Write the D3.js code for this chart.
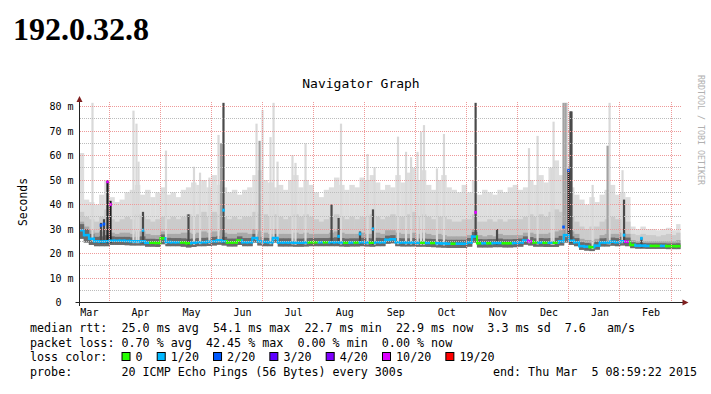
<!DOCTYPE html>
<html>
<head>
<meta charset="utf-8">
<script src="https://cdn.jsdelivr.net/npm/d3@7"></script>
<style>
  body { margin: 0; background: #fff; }
  text { font-family: "DejaVu Sans Mono", monospace; white-space: pre; }
</style>
</head>
<body>
<svg id="chart" width="711" height="394"></svg>
<script>
// month labels, Mar 2014 .. Feb 2015 (month index 0 = Mar 2014)
const months = ["Mar", "Apr", "May", "Jun", "Jul", "Aug", "Sep", "Oct", "Nov", "Dec", "Jan", "Feb"];
const yTicks = [0, 10, 20, 30, 40, 50, 60, 70, 80];
const yMinor = [5, 15, 25, 35, 45, 55, 65, 75];

// one column every 0.1 month, starting mid March 2014 (values in ms)
const colFirst = 0.4, colStep = 0.1;

const median = [
  29.5, 27.5, 26.0, 25.0, 24.9, 25.0,
  25.2, 25.2, 25.2, 25.1, 25.0, 25.0, 25.0, 24.4, 24.4, 24.3,
  26.2, 24.7, 24.6, 24.6, 24.5, 24.2, 24.4, 24.6, 24.6, 24.8,
  25.0, 25.4, 25.0, 24.5, 24.5, 25.3, 24.6, 24.6, 26.3, 25.0,
  24.7, 24.6, 26.3, 24.5, 24.5, 24.5, 24.4, 24.4, 24.5, 24.6,
  24.6, 24.6, 24.6, 24.6, 24.6, 24.5, 24.4, 24.5, 24.5, 24.6,
  24.5, 24.4, 24.6, 24.6, 25.6, 25.8, 24.6, 24.5, 24.5, 24.5,
  24.4, 24.4, 24.3, 24.3, 24.2, 24.1, 24.0, 24.0, 24.0, 24.0,
  24.5, 26.9, 24.2, 24.2, 24.2, 24.3, 24.3, 24.2, 24.2, 24.3,
  24.5, 25.3, 25.0, 24.5, 24.5, 24.4, 24.4, 24.4, 25.0, 27.5,
  25.2, 24.6, 23.0, 22.8, 22.6, 23.2, 24.5, 24.5, 24.8, 24.6,
  25.0, 24.8, 23.5, 23.2, 23.2, 23.1, 23.1, 23.1, 23.1, 23.0,
  23.0, 23.0
];

// loss index per column: 0 = none, 1 = 1/20, 5 = 10/20
const loss = [
  1, 1, 1, 1, 1, 1,
  1, 1, 1, 1, 1, 1, 1, 1, 0, 0,
  0, 1, 1, 1, 0, 0, 1, 1, 1, 1,
  1, 1, 1, 0, 0, 0, 1, 1, 1, 1,
  1, 1, 1, 1, 1, 1, 1, 1, 1, 0,
  0, 1, 0, 1, 1, 1, 0, 1, 0, 1,
  1, 0, 1, 1, 1, 1, 1, 1, 1, 1,
  1, 0, 1, 0, 1, 1, 1, 0, 1, 1,
  1, 1, 0, 1, 0, 1, 1, 0, 0, 1,
  1, 1, 5, 0, 1, 0, 1, 0, 1, 1,
  1, 1, 1, 1, 0, 1, 1, 1, 1, 1,
  1, 5, 0, 1, 1, 1, 0, 0, 1, 0,
  0, 0
];

const pingMin = [
  26.0, 24.5, 23.5, 23.0, 23.0, 23.0,
  23.5, 23.5, 23.5, 23.4, 23.3, 23.3, 23.3, 22.8, 22.8, 22.7,
  23.8, 23.0, 23.0, 23.0, 22.8, 22.5, 22.7, 23.0, 23.0, 23.1,
  23.3, 23.6, 23.3, 22.9, 22.9, 23.5, 23.0, 23.0, 24.5, 23.3,
  23.0, 23.0, 24.5, 22.9, 22.9, 22.9, 22.8, 22.8, 22.9, 23.0,
  23.0, 23.0, 23.0, 23.0, 23.0, 22.9, 22.8, 22.9, 22.9, 23.0,
  22.9, 22.8, 23.0, 23.0, 24.0, 24.2, 23.0, 22.9, 22.9, 22.9,
  22.8, 22.8, 22.7, 22.6, 22.5, 22.4, 22.3, 22.3, 22.3, 22.3,
  22.8, 24.5, 22.5, 22.5, 22.5, 22.6, 22.6, 22.5, 22.5, 22.6,
  22.8, 23.6, 23.3, 22.8, 22.8, 22.7, 22.7, 22.7, 23.3, 24.5,
  23.5, 23.0, 21.5, 21.2, 21.0, 21.6, 22.9, 22.9, 23.2, 23.0,
  23.3, 23.0, 22.2, 22.0, 22.0, 21.9, 21.9, 21.9, 21.9, 21.8,
  21.8, 21.8
];

const pingInner = [
  32.0, 30.0, 28.0, 26.8, 27.0, 27.5,
  27.0, 26.8, 26.8, 26.8, 26.6, 26.8, 27.0, 26.0, 26.0, 25.9,
  27.8, 26.4, 26.3, 26.3, 26.2, 26.0, 26.1, 26.3, 26.4, 26.5,
  26.8, 27.2, 26.8, 26.1, 26.1, 27.0, 26.3, 26.3, 28.0, 26.8,
  26.4, 26.3, 28.0, 26.2, 26.2, 26.2, 26.1, 26.1, 26.2, 26.3,
  26.3, 26.3, 26.3, 26.4, 26.6, 26.3, 26.1, 26.2, 26.2, 26.4,
  26.3, 26.2, 26.4, 26.3, 27.3, 27.5, 26.3, 26.2, 26.2, 26.3,
  26.1, 26.1, 26.0, 25.9, 25.8, 25.7, 25.6, 25.6, 25.6, 25.6,
  26.3, 28.8, 25.9, 25.8, 25.9, 25.9, 26.1, 25.8, 25.8, 25.9,
  26.1, 27.0, 26.7, 26.2, 26.3, 26.2, 26.3, 26.4, 27.2, 30.0,
  27.0, 26.3, 24.6, 24.3, 24.1, 24.8, 26.2, 26.3, 26.5, 26.3,
  26.8, 26.5, 24.6, 24.3, 24.3, 24.2, 24.2, 24.2, 24.2, 24.1,
  24.1, 24.2
];

const pingMid = [
  33, 31, 29.5, 28.5, 29, 30,
  28.5, 28, 28.5, 28.5, 28, 29, 29, 28, 27.5, 27.5,
  29, 28, 28, 28, 28.5, 28.5, 28, 28.5, 29, 28.5,
  29, 29, 28.5, 28, 28, 28.5, 28.5, 28, 30, 29,
  28.5, 28, 30, 28, 28, 28, 28.5, 28, 28.5, 28,
  28, 28, 28, 28.5, 29, 28.5, 28, 28, 28, 28.5,
  28, 28, 28.5, 28, 29.5, 29.5, 28.5, 28, 28, 28.5,
  28, 28.5, 28, 27.5, 28, 27.5, 27, 27, 27, 27,
  27.5, 30, 27.5, 27, 27.5, 27, 28, 27.5, 27.5, 27.5,
  27.5, 28.5, 28.5, 28, 28, 28, 28.5, 29, 29.5, 32,
  29, 28, 26, 25.5, 25.5, 26, 27.5, 28, 28, 28,
  28.5, 28, 25.5, 25, 25, 25, 25, 25, 25, 25,
  25, 25.5
];

const pingUpper = [
  37, 35, 34, 33, 35, 38,
  34, 33, 34, 35, 34, 36, 35, 34, 33, 34,
  35, 34, 35, 34, 35, 36, 35, 36, 37, 35,
  37, 36, 35, 34, 35, 34, 35, 35, 37, 36,
  36, 35, 36, 35, 34, 35, 36, 35, 36, 35,
  34, 33, 34, 35, 36, 35, 34, 35, 34, 35,
  35, 36, 35, 34, 35, 36, 35, 35, 36, 37,
  35, 36, 35, 34, 35, 35, 34, 33, 33, 34,
  34, 36, 33, 33, 34, 33, 34, 33, 34, 34,
  34, 35, 36, 35, 36, 35, 37, 38, 37, 40,
  35, 33, 31, 30, 31, 31, 33, 34, 35, 34,
  34, 33, 28, 27.5, 28, 27.5, 27.5, 27, 27.5, 28,
  27.5, 28.5
];

const pingMax = [
  61, 42, 41, 40, 44, 50,
  43, 41, 42, 45, 46, 48, 44, 46, 43, 45,
  47, 44, 45, 43, 46, 47, 49, 48, 50, 47,
  52, 48, 47, 45, 46, 44, 46, 47, 52, 54,
  50, 49, 47, 48, 46, 50, 52, 47, 50, 48,
  45, 43, 46, 47, 51, 48, 46, 48, 47, 51,
  50, 52, 49, 46, 48, 47, 52, 49, 53, 55,
  50, 54, 48, 46, 50, 52, 47, 46, 45, 48,
  45, 50, 44, 46, 45, 44, 46, 45, 47, 48,
  46, 47, 50, 48, 52, 49, 55, 58, 52, 56,
  47, 44, 42, 40, 43, 41, 44, 46, 48, 44,
  45, 43, 31, 30, 31, 30, 30, 29.5, 30, 30.5,
  29.5, 32
];

// short outliers: time, top (ms), shade (L light, M mid, D dark, K black), median dot (ms), loss index
const spikes = [
  ["2014-03-21T19:00", 81.5, "L"],
  ["2014-03-26T23:00", 32.5, "D", 31.5, 2],
  ["2014-03-28T19:00", 34, "D", 32, 2],
  ["2014-03-30T22:00", 50, "K", 49.3, 5],
  ["2014-04-01T17:00", 41.5, "K", 40, 5],
  ["2014-04-15T05:00", 78.3, "L"],
  ["2014-04-16T23:00", 73, "L"],
  ["2014-04-18T04:00", 57.5, "L"],
  ["2014-04-20T19:00", 37, "D", 29.5, 1],
  ["2014-05-04T10:00", 62, "L"],
  ["2014-05-18T02:00", 36, "D"],
  ["2014-05-21T10:00", 55.4, "L"],
  ["2014-05-25T02:00", 53, "L"],
  ["2014-05-30T19:00", 51, "L"],
  ["2014-06-05T04:00", 68.4, "L"],
  ["2014-06-06T15:00", 65, "M"],
  ["2014-06-08T02:00", 81.5, "D", 37.7, 1],
  ["2014-06-27T12:00", 73, "L"],
  ["2014-06-29T07:00", 66, "M"],
  ["2014-07-01T01:00", 78.6, "L"],
  ["2014-07-05T21:00", 67.5, "L"],
  ["2014-07-07T17:00", 81.5, "L"],
  ["2014-07-10T03:00", 57.5, "L"],
  ["2014-07-19T05:00", 60.2, "L"],
  ["2014-07-21T01:00", 57, "L"],
  ["2014-07-27T03:00", 65, "L"],
  ["2014-08-11T22:00", 40, "D"],
  ["2014-08-16T05:00", 34.5, "D", 27, 1],
  ["2014-08-17T16:00", 73, "L"],
  ["2014-08-29T05:00", 29, "D", 28, 1],
  ["2014-09-02T17:00", 60.6, "L"],
  ["2014-09-05T22:00", 38, "D", 30, 1],
  ["2014-09-06T20:00", 55.2, "L"],
  ["2014-09-20T15:00", 67.7, "L"],
  ["2014-09-25T08:00", 61.5, "L"],
  ["2014-09-28T07:00", 59.3, "L"],
  ["2014-10-02T03:00", 61.5, "L"],
  ["2014-10-04T06:00", 69.7, "L"],
  ["2014-10-06T01:00", 72.4, "L"],
  ["2014-10-13T22:00", 54.7, "L"],
  ["2014-10-18T04:00", 68.8, "L"],
  ["2014-11-06T05:00", 81.5, "D", 36.8, 5],
  ["2014-11-18T19:00", 30, "D"],
  ["2014-12-07T19:00", 63, "L"],
  ["2014-12-13T00:00", 68, "L"],
  ["2014-12-21T12:00", 55, "L"],
  ["2014-12-22T17:00", 73.8, "L"],
  ["2014-12-28T18:00", 81.5, "M", 30.8, 2],
  ["2014-12-29T23:00", 81.5, "M"],
  ["2014-12-30T22:00", 81.5, "L"],
  ["2014-12-31T19:00", 54, "K", 54, 2],
  ["2015-01-01T23:00", 78, "D"],
  ["2015-01-02T14:00", 78, "D"],
  ["2015-01-15T10:00", 48, "L"],
  ["2015-01-24T12:00", 64, "M"],
  ["2015-01-25T17:00", 81.5, "L"],
  ["2015-02-02T10:00", 54, "L"],
  ["2015-02-03T06:00", 42, "D", 27.5, 1],
  ["2015-02-12T19:00", 26.5, "D", 26.2, 1]
];

const lossColors = ["#26ff00", "#00b8ff", "#0059ff", "#5e00ff", "#7e00ff", "#dd00ff", "#ff0000"];
const lossLabels = ["0", "1/20", "2/20", "3/20", "4/20", "10/20", "19/20"];

const rttLine = "median rtt:  25.0 ms avg  54.1 ms max  22.7 ms min  22.9 ms now  3.3 ms sd  7.6   am/s";
const lossLine = "packet loss: 0.70 % avg  42.45 % max  0.00 % min  0.00 % now";
const probeLine = "probe:       20 ICMP Echo Pings (56 Bytes) every 300s";
const endLine = "end: Thu Mar  5 08:59:22 2015";

// ---------------------------------------------------------------
const svg = d3.select("#chart");
const plot = { left: 79.5, right: 680.5, top: 102, bottom: 302.5 };

// months are drawn with equal width; month index 1 = Apr 2014, 12 = Mar 2015
const x = d3.scaleLinear().domain([1, 12]).range([109.3, 671]);
const y = d3.scaleLinear().domain([0, 80]).range([302.5, 106.5]);

function monthPos(t) {
  const d = new Date(t);
  const m0 = d3.timeMonth.floor(d), m1 = d3.timeMonth.offset(m0, 1);
  return (m0.getFullYear() - 2014) * 12 + m0.getMonth() - 2 + (d - m0) / (m1 - m0);
}
const colPos = i => colFirst + i * colStep;
const half = v => Math.floor(v) + 0.5;

svg.append("rect").attr("width", 711).attr("height", 394).attr("fill", "#fff");

svg.append("text")
  .attr("x", 13).attr("y", 40)
  .style("font-family", '"Liberation Serif", "Times New Roman", serif')
  .style("font-weight", "bold").style("font-size", "32px")
  .text("192.0.32.8");

svg.append("text")
  .attr("x", 361).attr("y", 88).attr("text-anchor", "middle")
  .style("font-size", "13px")
  .text("Navigator Graph");

svg.append("text")
  .attr("transform", "translate(701,130) rotate(90)")
  .attr("text-anchor", "middle").attr("dy", "0.35em")
  .style("font-size", "8.3px").attr("fill", "#b0b0b0")
  .text("RRDTOOL / TOBI OETIKER");

svg.append("text")
  .attr("transform", "translate(27,202) rotate(-90)")
  .attr("text-anchor", "middle")
  .style("font-size", "11.4px")
  .text("Seconds");

svg.append("clipPath").attr("id", "clip")
  .append("rect")
  .attr("x", plot.left).attr("y", 90)
  .attr("width", plot.right - plot.left).attr("height", plot.bottom - 90);

const g = svg.append("g").attr("clip-path", "url(#clip)");

// smoke layers, outer pings lightest
const layers = [
  { top: pingMax, fill: "#dedede" },
  { top: pingUpper, fill: "#cbcbcb" },
  { top: pingMid, fill: "#a9a9a9" },
  { top: pingInner, fill: "#6a6a6a" }
];
layers.forEach(layer => {
  g.append("g").selectAll("rect")
    .data(layer.top)
    .join("rect")
    .attr("x", (d, i) => x(colPos(i)))
    .attr("width", (d, i) => x(colPos(i + 1)) - x(colPos(i)) + 0.4)
    .attr("y", d => y(d))
    .attr("height", (d, i) => y(pingMin[i]) - y(d))
    .attr("fill", layer.fill);
});

// outliers
const shadeColor = { L: "#d9d9d9", M: "#a3a3a3", D: "#4a4a4a", K: "#1c1c1c" };
const shadeOrder = { L: 0, M: 1, D: 2, K: 3 };
const spikeData = spikes.map(s => {
  const p = monthPos(s[0]);
  const col = Math.max(0, Math.min(median.length - 1, Math.floor((p - colFirst) / colStep)));
  return { p, top: s[1], shade: s[2], dot: s[3], dotLoss: s[4], base: median[col] - 0.8 };
}).sort((a, b) => shadeOrder[a.shade] - shadeOrder[b.shade]);

g.append("g").selectAll("rect")
  .data(spikeData)
  .join("rect")
  .attr("x", d => x(d.p) - 1.1)
  .attr("width", 2.2)
  .attr("y", d => y(d.top))
  .attr("height", d => y(d.base) - y(d.top))
  .attr("fill", d => shadeColor[d.shade]);

// median line, coloured by loss
const med = g.append("g");
med.selectAll("rect.seg")
  .data(median)
  .join("rect")
  .attr("class", "seg")
  .attr("x", (d, i) => x(colPos(i)))
  .attr("width", (d, i) => x(colPos(i + 1)) - x(colPos(i)) + 0.3)
  .attr("y", d => y(d) - 1.25)
  .attr("height", 2.5)
  .attr("fill", (d, i) => lossColors[loss[i]]);
med.selectAll("rect.step")
  .data(median.slice(1))
  .join("rect")
  .attr("class", "step")
  .attr("x", (d, i) => x(colPos(i + 1)) - 1)
  .attr("width", 2)
  .attr("y", (d, i) => Math.min(y(d), y(median[i])) - 1.25)
  .attr("height", (d, i) => Math.abs(y(d) - y(median[i])) + 2.5)
  .attr("fill", (d, i) => lossColors[loss[i + 1]]);

g.append("g").selectAll("rect")
  .data(spikeData.filter(d => d.dot !== undefined))
  .join("rect")
  .attr("x", d => x(d.p) - 1.3)
  .attr("width", 2.6)
  .attr("y", d => y(d.dot) - 1.5)
  .attr("height", 3)
  .attr("fill", d => lossColors[d.dotLoss]);

// grid (drawn over the data, like rrdtool)
const grid = svg.append("g").attr("shape-rendering", "crispEdges");
grid.selectAll("line.minor")
  .data(yMinor)
  .join("line")
  .attr("x1", plot.left).attr("x2", plot.right + 1)
  .attr("y1", d => half(y(d))).attr("y2", d => half(y(d)))
  .attr("stroke", "#bcbcbc").attr("stroke-dasharray", "1,1");
grid.selectAll("line.major")
  .data(yTicks.filter(v => v > 0))
  .join("line")
  .attr("x1", plot.left).attr("x2", plot.right + 1)
  .attr("y1", d => half(y(d))).attr("y2", d => half(y(d)))
  .attr("stroke", "#ee9a9a").attr("stroke-dasharray", "1,1");
grid.selectAll("line.month")
  .data(d3.range(1, 13))
  .join("line")
  .attr("x1", d => half(x(d))).attr("x2", d => half(x(d)))
  .attr("y1", plot.top).attr("y2", plot.bottom)
  .attr("stroke", "#ee9a9a").attr("stroke-dasharray", "1,1");

// axes
const axisColor = "#222", arrowColor = "#7f1f1f";
svg.append("line")
  .attr("x1", plot.left).attr("x2", plot.left)
  .attr("y1", plot.bottom + 3.5).attr("y2", plot.top)
  .attr("stroke", axisColor);
svg.append("line")
  .attr("x1", plot.left - 4).attr("x2", plot.right + 3)
  .attr("y1", plot.bottom).attr("y2", plot.bottom)
  .attr("stroke", axisColor);
svg.append("path")
  .attr("d", `M${plot.left},${plot.top - 6}L${plot.left - 3},${plot.top}L${plot.left + 3},${plot.top}Z`)
  .attr("fill", arrowColor);
svg.append("path")
  .attr("d", `M${plot.right + 8},${plot.bottom}L${plot.right + 2},${plot.bottom - 3}L${plot.right + 2},${plot.bottom + 3}Z`)
  .attr("fill", arrowColor);

const yAxis = svg.append("g")
  .attr("transform", `translate(${plot.left},0)`)
  .call(d3.axisLeft(y).tickValues(yTicks).tickSize(0).tickPadding(6)
    .tickFormat(v => v ? `${v} m` : "0  "));
yAxis.select(".domain").remove();
yAxis.selectAll("text")
  .style("font-family", '"DejaVu Sans Mono", monospace')
  .style("font-size", "10px").attr("fill", "#000");

const xAxis = svg.append("g")
  .attr("transform", `translate(0,${plot.bottom})`)
  .call(d3.axisBottom(x).tickValues(months.map((m, i) => i + 0.6)).tickSize(0).tickPadding(6)
    .tickFormat((d, i) => months[i]));
xAxis.select(".domain").remove();
xAxis.selectAll("text")
  .style("font-family", '"DejaVu Sans Mono", monospace')
  .style("font-size", "10px").attr("fill", "#000");

// legend
const legendX = 30, adv = 7.04, legendFont = "11.7px";
const rows = [332, 346.5, 361, 375.5];
const legend = svg.append("g").style("font-size", legendFont);
legend.append("text").attr("x", legendX).attr("y", rows[0]).text(rttLine);
legend.append("text").attr("x", legendX).attr("y", rows[1]).text(lossLine);
legend.append("text").attr("x", legendX).attr("y", rows[2]).text("loss color:");
legend.append("text").attr("x", legendX).attr("y", rows[3]).text(probeLine);
legend.append("text").attr("x", 697).attr("y", rows[3]).attr("text-anchor", "end").text(endLine);

let col = 13;
lossLabels.forEach((lab, i) => {
  legend.append("rect")
    .attr("x", legendX + col * adv + 0.5).attr("y", rows[2] - 8.5)
    .attr("width", 8).attr("height", 8)
    .attr("fill", lossColors[i]).attr("stroke", "#000");
  legend.append("text").attr("x", legendX + (col + 2) * adv).attr("y", rows[2]).text(lab);
  col += 2 + lab.length + 2;
});
</script>
</body>
</html>
